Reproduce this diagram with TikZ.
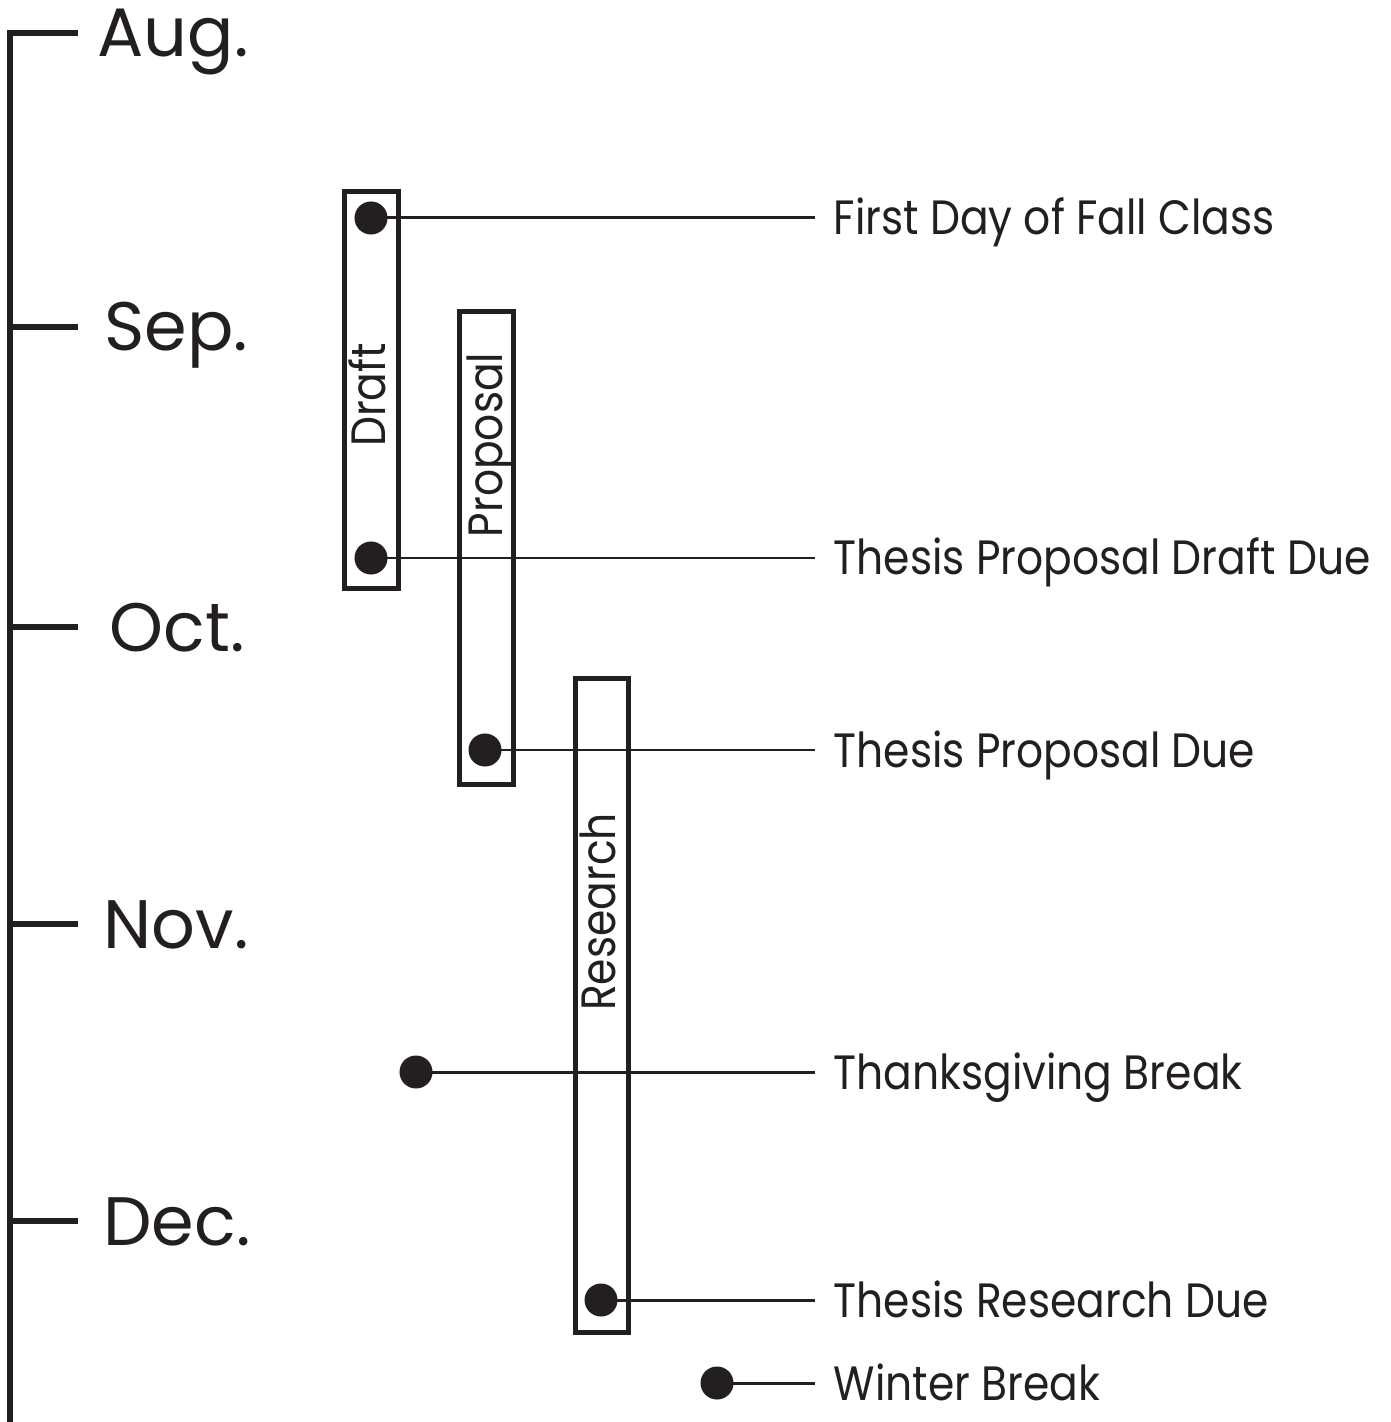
\documentclass[tikz,border=0pt]{standalone}
\usepackage{fontspec}
\setmainfont{Poppins}[FakeStretch=0.88]
\newfontfamily\monthfont{Poppins}
\usepackage{tikz}
\usetikzlibrary{positioning,calc}
\definecolor{ink}{HTML}{231F20}

\begin{document}
\begin{tikzpicture}[
    x=0.01cm, y=-0.01cm,
    color=ink,
    month/.style={anchor=base, font=\monthfont\fontsize{19.5}{19.5}\selectfont, inner sep=0pt},
    bar/.style={draw, line width=1.3pt, rectangle, inner sep=0pt},
    bartext/.style={rotate=90, anchor=base, font=\fontsize{13.7}{13.7}\selectfont, inner sep=0pt},
    event/.style={circle, fill, minimum size=0.33cm, inner sep=0pt},
    label/.style={anchor=base west, font=\fontsize{13.7}{13.7}\selectfont, inner sep=0pt},
    tick/.style={line width=1.8pt}
]
  \useasboundingbox (0,0) rectangle (1390,1422);

  % time axis
  \coordinate (top) at (10,30);
  \coordinate (bot) at (10,1422);
  \draw[tick] (top) -- (bot);

  % months
  \foreach \m/\y/\x in {Aug./33/173, Sep./327/176, Oct./627/177, Nov./924/176, Dec./1221/177} {
    \coordinate (t\y) at (10,\y);
    \draw[tick] ($(t\y)+(-3,0)$) -- ++(71,0);
    \node[month] (m\y) at (\x,\y+24) {\m};
  }

  % bars
  \node[bar, minimum width=0.54cm, minimum height=3.97cm] (draftbar) at (371.5,390) {};
  \node[bar, minimum width=0.54cm, minimum height=4.73cm] (propbar) at (486.5,548) {};
  \node[bar, minimum width=0.53cm, minimum height=6.54cm] (resbar) at (602,1005.5) {};
  \node[bartext] (drafttxt) at (385,395) {Draft};
  \node[bartext] (proptxt) at (502,445) {Proposal};
  \node[bartext] (restxt) at (615,912) {Research};

  % events
  \node[event] (e1) at (371,218) {};
  \node[event] (e2) at (371,558) {};
  \node[event] (e3) at (485,750) {};
  \node[event] (e4) at (416,1072) {};
  \node[event] (e5) at (601,1300) {};
  \node[event] (e6) at (717,1383) {};

  \node[label] (l1) at (833,235) {First Day of Fall Class};
  \node[label] (l2) at (833,574) {Thesis Proposal Draft Due};
  \node[label] (l3) at (833,767) {Thesis Proposal Due};
  \node[label] (l4) at (833,1089) {Thanksgiving Break};
  \node[label] (l5) at (833,1317) {Thesis Research Due};
  \node[label] (l6) at (833,1400) {Winter Break};

  % edges
  \foreach \i/\y in {1/218,2/558,3/750,4/1072,5/1300,6/1383}
    \draw[line width=0.85pt] (e\i.center) -- (815,\y);
\end{tikzpicture}
\end{document}
